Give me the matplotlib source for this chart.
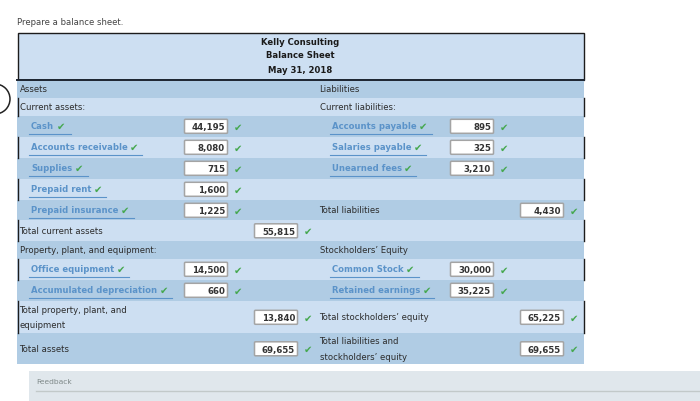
import matplotlib
matplotlib.use("Agg")
import matplotlib.pyplot as plt
from matplotlib.patches import Rectangle, Circle, FancyBboxPatch

W, H = 700, 402
LIGHT, DARK = "#cddff2", "#b0cce4"
BLUE, GREEN, TXT = "#5b93c9", "#46a850", "#2c2c2c"

title_lines = ["Kelly Consulting", "Balance Sheet", "May 31, 2018"]
row_edges = [81, 99, 117, 138, 159, 180, 201, 221, 242, 260, 281, 302, 334, 365]
row_colors = [DARK, LIGHT, DARK, LIGHT, DARK, LIGHT, DARK, LIGHT, DARK, LIGHT, DARK, LIGHT, DARK]

# row index, text
left_plain = [(0, "Assets"), (1, "Current assets:"), (7, "Total current assets"),
              (8, "Property, plant, and equipment:"),
              (11, "Total property, plant, and\nequipment"), (12, "Total assets")]
right_plain = [(0, "Liabilities"), (1, "Current liabilities:"), (6, "Total liabilities"),
               (8, "Stockholders\u2019 Equity"), (11, "Total stockholders\u2019 equity"),
               (12, "Total liabilities and\nstockholders\u2019 equity")]

# row index, account, underline end, amount
left_accounts = [(2, "Cash", 71, "44,195"), (3, "Accounts receivable", 142, "8,080"),
                 (4, "Supplies", 88, "715"), (5, "Prepaid rent", 106, "1,600"),
                 (6, "Prepaid insurance", 134, "1,225"), (9, "Office equipment", 129, "14,500"),
                 (10, "Accumulated depreciation", 172, "660")]
right_accounts = [(2, "Accounts payable", 432, "895"), (3, "Salaries payable", 426, "325"),
                  (4, "Unearned fees", 416, "3,210"), (9, "Common Stock", 419, "30,000"),
                  (10, "Retained earnings", 434, "35,225")]

# row index, amount
left_totals = [(7, "55,815"), (11, "13,840"), (12, "69,655")]
right_totals = [(6, "4,430"), (11, "65,225"), (12, "69,655")]

fig = plt.figure(figsize=(7.0, 4.02), dpi=100)
ax = fig.add_axes([0, 0, 1, 1])
ax.set_xlim(0, W)
ax.set_ylim(H, 0)
ax.axis("off")
FS = 6.1

def check(x, y, size=7.2):
    ax.text(x, y, "\u2714", fontsize=size, color=GREEN, ha="left", va="center",
            family="DejaVu Sans", zorder=6)

def box(x, y, val):
    ax.add_patch(FancyBboxPatch((x + 0.5, y - 7), 43, 14, boxstyle="round,pad=0,rounding_size=1",
                                fc="white", ec="#a4a4a4", lw=1.1, zorder=4))
    ax.text(x + 41, y + 0.3, val, fontsize=FS + 0.1, weight="bold", color="#333333", ha="right",
            va="center", zorder=5)
    check(x + 50, y + 0.3)

def mid(i):
    return (row_edges[i] + row_edges[i + 1]) / 2

ax.text(17, 22.5, "Prepare a balance sheet.", fontsize=FS, color="#444444", va="center")

# header
ax.add_patch(Rectangle((17.5, 33.5), 566, 47, fc=LIGHT, ec="#1c1c1c", lw=1.0, zorder=1))
for y, t in zip([42.5, 56, 70.5], title_lines):
    ax.text(300.5, y, t, fontsize=FS, weight="bold", color="#1a1a1a", ha="center", va="center", zorder=3)
ax.plot([17, 584], [80.5, 80.5], color="#1c2430", lw=1.4, zorder=3)

# rows
for i, c in enumerate(row_colors):
    ax.add_patch(Rectangle((17, row_edges[i]), 567, row_edges[i + 1] - row_edges[i], fc=c, ec="none", zorder=1))
    if c == LIGHT:
        for x in (17.5, 583.5):
            ax.plot([x, x], [row_edges[i], row_edges[i + 1]], color="#1c1c1c", lw=1.0, zorder=2)

for x0, rows in ((19.5, left_plain), (319.5, right_plain)):
    for i, t in rows:
        ax.text(x0, mid(i), t, fontsize=FS, color=TXT, va="center", linespacing=1.9, zorder=3)

renderer = fig.canvas.get_renderer()
for x0, bx, rows in ((31, 184, left_accounts), (331.5, 450, right_accounts)):
    for i, name, end, val in rows:
        y = row_edges[i] + 9.5
        t = ax.text(x0, y, name, fontsize=FS, weight="bold", color=BLUE, va="center", zorder=3)
        r = t.get_window_extent(renderer)
        check(r.x1 + 2.5, y)
        ax.plot([x0 - 2, end], [row_edges[i] + 17.5] * 2, color=BLUE, lw=0.8, zorder=3)
        box(bx, row_edges[i] + 10.3, val)

for bx, rows in ((254, left_totals), (520, right_totals)):
    for i, val in rows:
        box(bx, mid(i) + 0.3, val)

# cropped circle at the left
ax.add_patch(Circle((-5, 100), 15, fc="white", ec="#222222", lw=1.1, zorder=2))

# feedback
ax.add_patch(Rectangle((29, 372), 671, 30, fc="#e0e7ec", ec="none", zorder=1))
ax.plot([36, 700], [392, 392], color="#c2c9c9", lw=1.0, zorder=2)
ax.text(36, 382, "Feedback", fontsize=5.4, color="#808a8a", va="center", zorder=3)

fig.savefig("out.png", dpi=100)
